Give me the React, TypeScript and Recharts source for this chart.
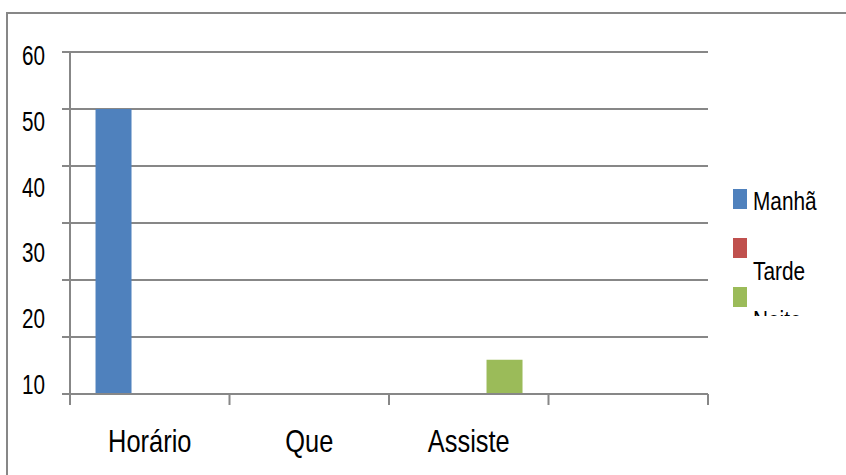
import React from "react";
import { BarChart, Bar, XAxis, YAxis, CartesianGrid, Legend } from "recharts";

const categories = ["Horário", "Que", "Assiste", ""];
const manha = [50, 0, 0, 0];
const tarde = [0, 0, 0, 0];
const noite = [0, 0, 6, 0];
const gridTicks = [0, 10, 20, 30, 40, 50, 60];
const labelTicks = [10, 20, 30, 40, 50, 60];
const seriesNames = ["Manhã", "Tarde", "Noite"];
const seriesColors = ["#4F81BD", "#C0504D", "#9BBB59"];

const data = categories.map((c, i) => ({
  name: c,
  [seriesNames[0]]: manha[i],
  [seriesNames[1]]: tarde[i],
  [seriesNames[2]]: noite[i],
}));

const FONT = "'Liberation Sans', Arial, sans-serif";
const GRAY = "#878787";

const YLabel = (props: any) => (
  <g transform={`translate(${props.x},${props.y + 13}) scale(0.74,1)`}>
    <text x={0} y={0} textAnchor="end" fontFamily={FONT} fontSize={28} fill="#000">
      {props.payload.value}
    </text>
  </g>
);

const XLabel = (props: any) => {
  const half = props.payload.offset || 0;
  const x = props.x;
  const y = props.y;
  return (
    <g>
      {props.index === 0 && (
        <line x1={x - half} x2={x - half} y1={y} y2={y + 11} stroke={GRAY} strokeWidth={2} />
      )}
      <line x1={x + half} x2={x + half} y1={y} y2={y + 11} stroke={GRAY} strokeWidth={2} />
      <g transform={`translate(${x},${y + 58}) scale(0.82,1)`}>
        <text x={0} y={0} textAnchor="middle" fontFamily={FONT} fontSize={31} fill="#000">
          {props.payload.value}
        </text>
      </g>
    </g>
  );
};

const Empty = () => <g />;

const LegendContent = (props: any) => {
  const payload = [...(props.payload || [])].sort(
    (a: any, b: any) => seriesNames.indexOf(a.value) - seriesNames.indexOf(b.value)
  );
  return (
    <svg width={110} height={130} style={{ display: "block" }}>
      {payload.map((p: any, i: number) => {
        const top = i * 49;
        const inline = i === 0;
        return (
          <g key={i}>
            <rect x={0} y={top + 3} width={14} height={20} fill={p.color} />
            <g transform={`translate(20,${inline ? top + 24 : top + 45}) scale(0.8,1)`}>
              <text x={0} y={0} fontFamily={FONT} fontSize={26} fill="#000">
                {p.value}
              </text>
            </g>
          </g>
        );
      })}
    </svg>
  );
};

export default function App() {
  return (
    <div style={{ position: "fixed", left: 0, top: 0, width: 846, height: 475, overflow: "hidden", background: "#fff" }}>
      <div
        style={{
          position: "absolute",
          left: 6,
          top: 12,
          width: 900,
          height: 500,
          border: `2px solid ${GRAY}`,
        }}
      />
      <div style={{ position: "absolute", left: 0, top: 0 }}>
        <BarChart
          width={846}
          height={475}
          data={data}
          margin={{ top: 52, right: 138, bottom: 0, left: 0 }}
          barCategoryGap="16%"
          barGap={0}
        >
          <CartesianGrid vertical={false} stroke={GRAY} strokeWidth={2} />
          <XAxis
            dataKey="name"
            height={81}
            axisLine={{ stroke: GRAY, strokeWidth: 2 }}
            tickLine={false}
            tickSize={0}
            tickMargin={0}
            tick={XLabel}
            interval={0}
          />
          <YAxis
            domain={[0, 60]}
            ticks={gridTicks}
            allowDataOverflow
            width={70}
            axisLine={{ stroke: GRAY, strokeWidth: 2 }}
            tickSize={8}
            tickLine={{ stroke: GRAY, strokeWidth: 2 }}
            tick={Empty}
          />
          <YAxis
            yAxisId="lab"
            domain={[8, 60]}
            ticks={labelTicks}
            allowDataOverflow
            mirror
            axisLine={false}
            tickLine={false}
            tickSize={0}
            tickMargin={-25}
            tick={YLabel}
          />
          <Legend
            layout="horizontal"
            verticalAlign="middle"
            align="center"
            content={LegendContent}
            wrapperStyle={{ left: 733, top: 186, width: 110, height: 130, overflow: "hidden" }}
          />
          {seriesNames.map((s, i) => (
            <Bar key={s} dataKey={s} fill={seriesColors[i]} isAnimationActive={false} />
          ))}
        </BarChart>
      </div>
    </div>
  );
}
